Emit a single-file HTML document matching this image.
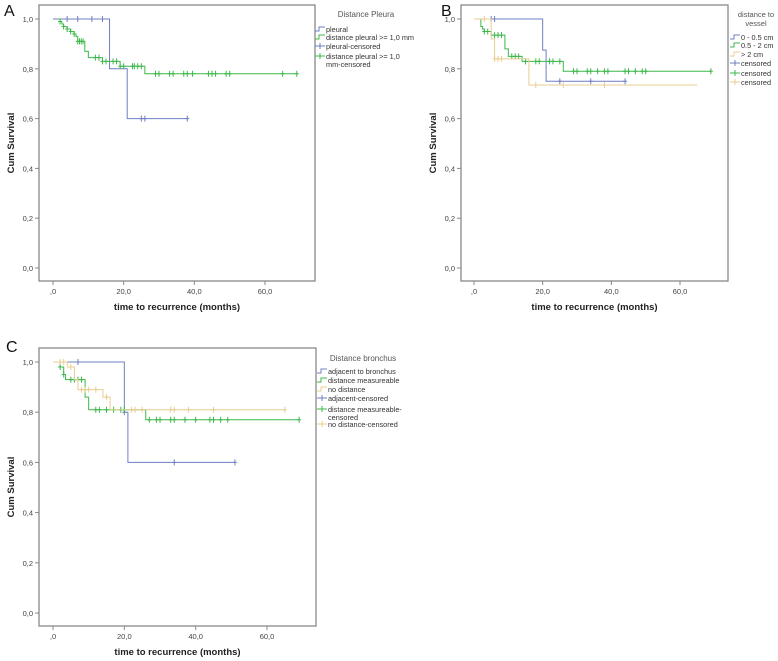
<!DOCTYPE html>
<html><head><meta charset="utf-8"><style>
body{margin:0;background:#fff}
svg{display:block;font-family:"Liberation Sans",sans-serif}
</style></head><body>
<svg id="fig" width="778" height="661"></svg>
<script>
const xTicks=[0,20,40,60];
const xTickLabels=[",0","20,0","40,0","60,0"];
const yTicks=[0,0.2,0.4,0.6,0.8,1.0];
const yTickLabels=["0,0","0,2","0,4","0,6","0,8","1,0"];

// Panel A
const aPleuralT=[0,16,21];const aPleuralS=[1,0.8,0.6];const aPleuralEnd=38;const aPleuralCens=[4,7,11,14,25,26,38];
const aDistT=[1.5,2,2.5,3,4,5,6,6.5,7,9,10,14,19,22,26];const aDistS=[1,0.99,0.98,0.97,0.96,0.95,0.94,0.93,0.91,0.87,0.845,0.83,0.81,0.81,0.78];const aDistEnd=69;
const aDistCens=[2,3,4,5,6,7,7.5,8,8.5,12,13,14,15,17,18,19,20,22.5,23,24,25,29,30,33,34,37,38,39.5,44,45,46,49,50,65,69];
// Panel B
const bV1T=[0,20,21];const bV1S=[1,0.875,0.75];const bV1End=44;const bV1Cens=[5,6,25,34,44];
const bV2T=[1.5,2,2.5,3,5,9,10,14,26];const bV2S=[1,0.97,0.96,0.95,0.935,0.88,0.85,0.83,0.79];const bV2End=69;
const bV2Cens=[3,4,6,7,8,11,12,13,15,18,19,22,23,25,29,30,33,34,36,38,39,44,45,47,49,50,69];
const bV3T=[0,5,6,16];const bV3S=[1,0.92,0.84,0.735];const bV3End=65;const bV3Cens=[3,6,7,8,18,26,38];
// Panel C
const cAdjT=[0,20,21];const cAdjS=[1,0.8,0.6];const cAdjEnd=51;const cAdjCens=[7,20,34,51];
const cMeasT=[1.5,2,3,3.5,9,10,26];const cMeasS=[1,0.98,0.95,0.93,0.86,0.81,0.77];const cMeasEnd=69;
const cMeasCens=[2,3,5,6,7,8,12,13,15,17,19,20,27,29,30,33,34,37,40,44,45,47,49,69];
const cNoT=[0,4,6,7,14,16];const cNoS=[1,0.98,0.93,0.89,0.86,0.81];const cNoEnd=65;
const cNoCens=[2,3,5,8,9,10,12,15,22,23,25,33,34,38,45,65];

const BLUE="#6f7fc4",GREEN="#3cb84a",ORANGE="#e8cd93";
const NS="http://www.w3.org/2000/svg";
const svg=document.getElementById('fig');
function el(tag,attrs,parent,text){const e=document.createElementNS(NS,tag);for(const k in attrs)e.setAttribute(k,attrs[k]);if(text!==undefined)e.textContent=text;(parent||svg).appendChild(e);return e;}

function panel(p){
  const g=el('g',{});
  
  
  const xs=v=>p.x0+(v/60)*(p.x60-p.x0);
  const ys=v=>p.y0-v*(p.y0-p.y1);
  const box=el('rect',{x:p.bx,y:p.by,width:p.bw,height:p.bh,fill:'none',stroke:'#888','stroke-width':1.3},g);
  
  const lt=el('text',{x:p.lx,y:p.ly,'font-size':16,fill:'#111'},g,p.letter);
  
  yTicks.forEach((v,i)=>{
    el('line',{x1:p.bx-4,x2:p.bx,y1:ys(v),y2:ys(v),stroke:'#888'},g);
    const t=el('text',{x:p.bx-6,y:ys(v)+3,'font-size':7.5,'text-anchor':'end',fill:'#444'},g,yTickLabels[i]);
    
  });
  xTicks.forEach((v,i)=>{
    el('line',{x1:xs(v),x2:xs(v),y1:p.by+p.bh,y2:p.by+p.bh+4,stroke:'#888'},g);
    const t=el('text',{x:xs(v),y:p.by+p.bh+13,'font-size':7.5,'text-anchor':'middle',fill:'#444'},g,xTickLabels[i]);
    
  });
  const xt=el('text',{x:(p.bx+p.bx+p.bw)/2,y:p.by+p.bh+29,'font-size':9.5,'font-weight':'bold','text-anchor':'middle',fill:'#222'},g,'time to recurrence (months)');
  
  const yt=el('text',{x:0,y:0,'font-size':9.5,'font-weight':'bold','text-anchor':'middle',fill:'#222',transform:`translate(${p.bx-25},${p.by+p.bh/2}) rotate(-90)`},g,'Cum Survival');
  
  p.series.forEach(s=>{
    let d=`M${xs(s.t[0])},${ys(s.s[0])}`;
    for(let i=1;i<s.t.length;i++){d+=`H${xs(s.t[i])}V${ys(s.s[i])}`;}
    d+=`H${xs(s.end)}`;
    const path=el('path',{d,fill:'none',stroke:s.c,'stroke-width':1},g);
    
    s.cens.forEach(c=>{
      let sv=s.s[0];for(let i=0;i<s.t.length;i++)if(s.t[i]<=c)sv=s.s[i];
      const m=el('path',{d:`M${xs(c)},${ys(sv)-3}V${ys(sv)+3}M${xs(c)-2},${ys(sv)}H${xs(c)+2}`,stroke:s.c,'stroke-width':1},g);
      
    });
  });
  const lg=el('g',{},g);
  const lh=el('text',{x:p.legTitleX,y:p.legTitleY,'font-size':p.legTitleSize,fill:'#555','text-anchor':'middle'},lg);
  p.legTitle.forEach((l,i)=>{el('tspan',{x:p.legTitleX,dy:i?9:0},lh,l);});
  
  p.leg.forEach(e=>{
    const ig=el('g',{},lg);
    const sx=p.legX,sy=e.y;
    if(e.type==='line')el('path',{d:`M${sx},${sy+2}H${sx+4}V${sy-2}H${sx+10}`,fill:'none',stroke:e.c},ig);
    else el('path',{d:`M${sx},${sy}H${sx+10}M${sx+5},${sy-3}V${sy+3}`,stroke:e.c},ig);
    e.lines.forEach((l,i)=>el('text',{x:sx+11,y:sy+3+i*8,'font-size':7.3,fill:'#333'},ig,l));
  });
}

panel({name:'panel-a',letter:'A',lx:4,ly:16,bx:39,by:5,bw:276,bh:276,x0:53,x60:265,y0:268,y1:19,
 series:[{name:'pleural',t:aPleuralT,s:aPleuralS,end:aPleuralEnd,cens:aPleuralCens,c:BLUE},
         {name:'distance-pleural',t:aDistT,s:aDistS,end:aDistEnd,cens:aDistCens,c:GREEN}],
 legTitle:['Distance Pleura'],legTitleX:366,legTitleY:17,legTitleSize:8,legX:315,
 leg:[{y:29,c:BLUE,type:'line',lines:['pleural']},{y:37,c:GREEN,type:'line',lines:['distance pleural >= 1,0 mm']},
      {y:46,c:BLUE,type:'cens',lines:['pleural-censored']},{y:56,c:GREEN,type:'cens',lines:['distance pleural >= 1,0','mm-censored']}]});

panel({name:'panel-b',letter:'B',lx:441,ly:16,bx:461,by:5,bw:267,bh:276,x0:474,x60:680,y0:268,y1:19,
 series:[{name:'vessel-0-0.5',t:bV1T,s:bV1S,end:bV1End,cens:bV1Cens,c:BLUE},
         {name:'vessel-0.5-2',t:bV2T,s:bV2S,end:bV2End,cens:bV2Cens,c:GREEN},
         {name:'vessel-gt-2',t:bV3T,s:bV3S,end:bV3End,cens:bV3Cens,c:ORANGE}],
 legTitle:['distance to','vessel'],legTitleX:756,legTitleY:17,legTitleSize:7.5,legX:730,
 leg:[{y:37,c:BLUE,type:'line',lines:['0 - 0.5 cm']},{y:45,c:GREEN,type:'line',lines:['0.5 - 2 cm']},
      {y:54,c:ORANGE,type:'line',lines:['> 2 cm']},{y:63,c:BLUE,type:'cens',lines:['censored']},
      {y:73,c:GREEN,type:'cens',lines:['censored']},{y:82,c:ORANGE,type:'cens',lines:['censored']}]});

panel({name:'panel-c',letter:'C',lx:6,ly:352,bx:39,by:348,bw:277,bh:278,x0:53,x60:267,y0:613,y1:362,
 series:[{name:'adjacent',t:cAdjT,s:cAdjS,end:cAdjEnd,cens:cAdjCens,c:BLUE},
         {name:'measureable',t:cMeasT,s:cMeasS,end:cMeasEnd,cens:cMeasCens,c:GREEN},
         {name:'no-distance',t:cNoT,s:cNoS,end:cNoEnd,cens:cNoCens,c:ORANGE}],
 legTitle:['Distance bronchus'],legTitleX:363,legTitleY:361,legTitleSize:8,legX:317,
 leg:[{y:371,c:BLUE,type:'line',lines:['adjacent to bronchus']},{y:380,c:GREEN,type:'line',lines:['distance measureable']},
      {y:389,c:ORANGE,type:'line',lines:['no distance']},{y:398,c:BLUE,type:'cens',lines:['adjacent-censored']},
      {y:409,c:GREEN,type:'cens',lines:['distance measureable-','censored']},{y:424,c:ORANGE,type:'cens',lines:['no distance-censored']}]});
</script>
</body></html>
